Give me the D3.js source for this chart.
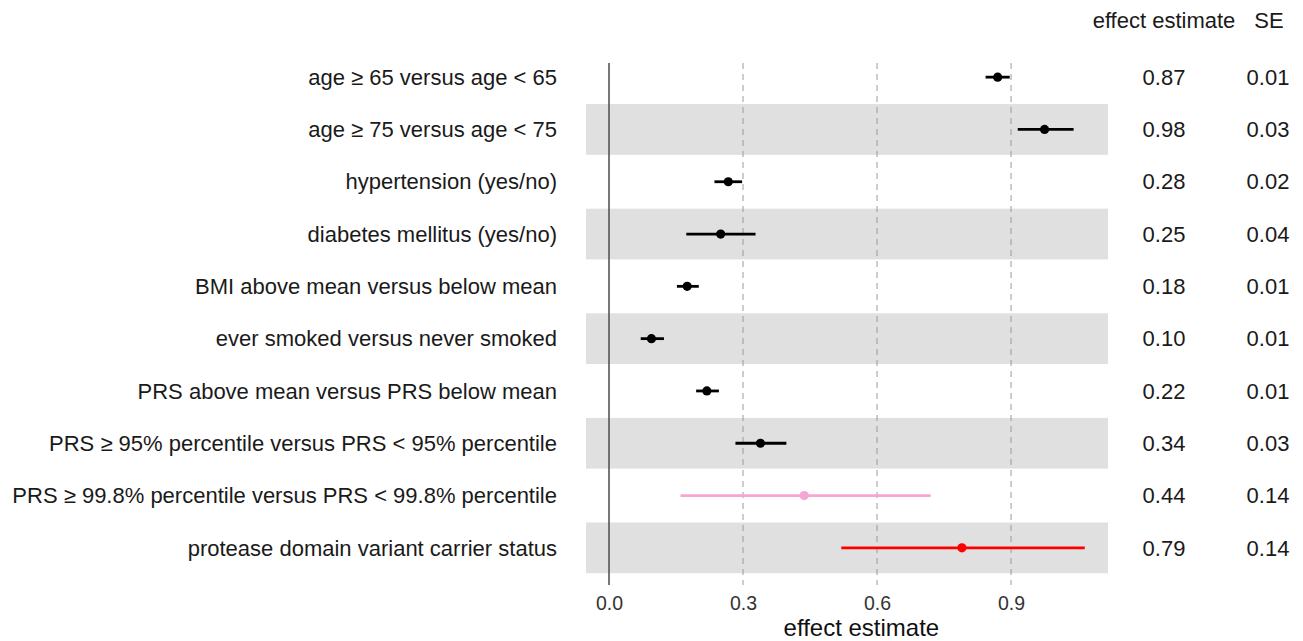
<!DOCTYPE html>
<html>
<head>
<meta charset="utf-8">
<script src="https://cdn.jsdelivr.net/npm/d3@7"></script>
<style>
  body { margin: 0; background: #fff; }
  svg { font-family: "Liberation Sans", Arial, sans-serif; }
</style>
</head>
<body>
<svg width="1303" height="641"></svg>
<script>
// Data
const labels = [
  "age \u2265 65 versus age < 65",
  "age \u2265 75 versus age < 75",
  "hypertension (yes/no)",
  "diabetes mellitus (yes/no)",
  "BMI above mean versus below mean",
  "ever smoked versus never smoked",
  "PRS above mean versus PRS below mean",
  "PRS \u2265 95% percentile versus PRS < 95% percentile",
  "PRS \u2265 99.8% percentile versus PRS < 99.8% percentile",
  "protease domain variant carrier status"
];
const estimates = [0.87, 0.975, 0.267, 0.25, 0.175, 0.095, 0.219, 0.339, 0.437, 0.79];
const lower = [0.843, 0.915, 0.236, 0.173, 0.152, 0.071, 0.195, 0.283, 0.16, 0.52];
const upper = [0.897, 1.04, 0.298, 0.328, 0.201, 0.123, 0.246, 0.397, 0.72, 1.065];
const estText = ["0.87", "0.98", "0.28", "0.25", "0.18", "0.10", "0.22", "0.34", "0.44", "0.79"];
const seText = ["0.01", "0.03", "0.02", "0.04", "0.01", "0.01", "0.01", "0.03", "0.14", "0.14"];
const groups = ["base", "base", "base", "base", "base", "base", "base", "base", "prs998", "variant"];
const xTicks = [0, 0.3, 0.6, 0.9];

const colors = { base: "#000000", prs998: "#f7a6d3", variant: "#ff0000" };

const svg = d3.select("svg");
const panel = { left: 586, right: 1108, top: 63, bottom: 585 };
const fs = 22;

const rows = labels.map((label, i) => ({
  label, est: estimates[i], lo: lower[i], hi: upper[i],
  estText: estText[i], se: seText[i], group: groups[i]
}));

// Scales
const x = d3.scaleLinear().domain([-0.0515, 1.117]).range([panel.left, panel.right]);
const y = d3.scaleBand().domain(labels).range([51, 574]).paddingInner(0.03).paddingOuter(0.015);
const yc = d => y(d) + y.bandwidth() / 2;

// Stripes on every second row
svg.append("g").selectAll("rect")
  .data(rows.filter((d, i) => i % 2 === 1))
  .join("rect")
  .attr("x", panel.left)
  .attr("width", panel.right - panel.left)
  .attr("y", d => y(d.label))
  .attr("height", y.bandwidth())
  .attr("fill", "#e0e0e0");

// Dashed reference lines
svg.append("g").selectAll("line")
  .data(xTicks.filter(t => t > 0))
  .join("line")
  .attr("x1", d => x(d)).attr("x2", d => x(d))
  .attr("y1", panel.top).attr("y2", panel.bottom)
  .attr("stroke", "#9a9a9a")
  .attr("stroke-width", 1)
  .attr("stroke-dasharray", "6,5");

// Zero line
svg.append("line")
  .attr("x1", x(0)).attr("x2", x(0))
  .attr("y1", panel.top).attr("y2", panel.bottom)
  .attr("stroke", "#555")
  .attr("stroke-width", 1.6);

// Error bars and points
const marks = svg.append("g").selectAll("g").data(rows).join("g");
marks.append("line")
  .attr("x1", d => x(d.lo)).attr("x2", d => x(d.hi))
  .attr("y1", d => yc(d.label)).attr("y2", d => yc(d.label))
  .attr("stroke", d => colors[d.group])
  .attr("stroke-width", 2.8);
marks.append("circle")
  .attr("cx", d => x(d.est))
  .attr("cy", d => yc(d.label))
  .attr("r", 4.6)
  .attr("fill", d => colors[d.group]);

// Row labels
svg.append("g").selectAll("text").data(rows).join("text")
  .attr("x", 557)
  .attr("y", d => yc(d.label))
  .attr("dy", "0.35em")
  .attr("text-anchor", "end")
  .attr("font-size", fs)
  .attr("fill", "#1a1a1a")
  .text(d => d.label);

// Table columns
svg.append("g").selectAll("text").data(rows).join("text")
  .attr("x", 1164)
  .attr("y", d => yc(d.label))
  .attr("dy", "0.35em")
  .attr("text-anchor", "middle")
  .attr("font-size", fs)
  .attr("fill", "#1a1a1a")
  .text(d => d.estText);

svg.append("g").selectAll("text").data(rows).join("text")
  .attr("x", 1268)
  .attr("y", d => yc(d.label))
  .attr("dy", "0.35em")
  .attr("text-anchor", "middle")
  .attr("font-size", fs)
  .attr("fill", "#1a1a1a")
  .text(d => d.se);

svg.append("text")
  .attr("x", 1164).attr("y", 20).attr("dy", "0.35em")
  .attr("text-anchor", "middle").attr("font-size", fs).attr("fill", "#1a1a1a")
  .text("effect estimate");
svg.append("text")
  .attr("x", 1269).attr("y", 20).attr("dy", "0.35em")
  .attr("text-anchor", "middle").attr("font-size", fs).attr("fill", "#1a1a1a")
  .text("SE");

// X axis
const xAxis = svg.append("g")
  .attr("transform", `translate(0,${panel.bottom})`)
  .call(d3.axisBottom(x).tickValues(xTicks).tickFormat(d3.format(".1f")).tickSize(0).tickPadding(11));
xAxis.select(".domain").remove();
xAxis.selectAll("text")
  .attr("font-size", 19.5)
  .attr("font-family", "Liberation Sans, Arial, sans-serif")
  .attr("fill", "#333");

svg.append("text")
  .attr("x", x(0.565))
  .attr("y", 628)
  .attr("dy", "0.35em")
  .attr("text-anchor", "middle")
  .attr("font-size", 24)
  .attr("fill", "#111")
  .text("effect estimate");
</script>
</body>
</html>
